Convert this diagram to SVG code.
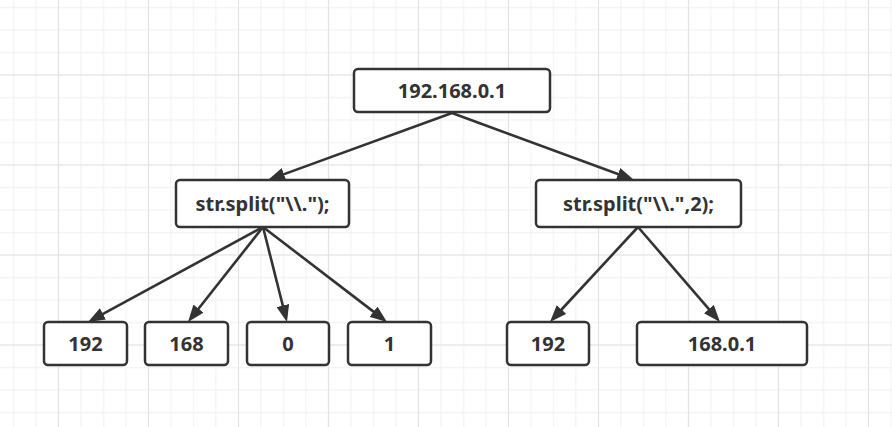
<svg xmlns="http://www.w3.org/2000/svg" width="892" height="427" viewBox="0 0 892 427">
<style>
.box{fill:#ffffff;stroke:#333333;stroke-width:2.5}
.lbl{font-family:"Noto Sans","Open Sans","DejaVu Sans",sans-serif;font-weight:bold;font-size:20px;fill:#333333;text-anchor:middle}
.edge{stroke:#333333;stroke-width:2.6;fill:none;marker-end:url(#arr)}
</style>
<defs>
<pattern id="gLight" patternUnits="userSpaceOnUse" x="0" y="0" width="22.5" height="22.5">
<path d="M13.5 0V22.5M0 7.5H22.5" stroke="#f0f0f0" stroke-width="1"/>
</pattern>
<pattern id="gDark" patternUnits="userSpaceOnUse" x="0" y="0" width="90" height="90">
<path d="M58.5 0V90M0 75H90" stroke="#e3e3e3" stroke-width="1"/>
</pattern>
<marker id="arr" markerUnits="userSpaceOnUse" markerWidth="17" markerHeight="13" refX="2" refY="6.5" orient="auto" viewBox="0 0 17 13">
<path d="M0,0 L17,6.5 L0,13 z" fill="#333333"/>
</marker>
</defs>
<rect width="892" height="427" fill="#ffffff"/>
<rect width="892" height="427" fill="url(#gLight)"/>
<rect width="892" height="427" fill="url(#gDark)"/>
<g id="connectors">
<line class="edge" x1="452" y1="113" x2="282.1" y2="174.9"/>
<line class="edge" x1="452" y1="113" x2="619.9" y2="174.8"/>
<line class="edge" x1="263" y1="227" x2="101.2" y2="314.8"/>
<line class="edge" x1="263" y1="227" x2="197.3" y2="310.2"/>
<line class="edge" x1="263" y1="227" x2="283.3" y2="307.5"/>
<line class="edge" x1="263" y1="227" x2="375.1" y2="312.9"/>
<line class="edge" x1="638" y1="227" x2="560.2" y2="311.0"/>
<line class="edge" x1="638" y1="227" x2="710.2" y2="310.6"/>
</g>
<g id="root">
<rect class="box" x="354" y="69" width="196" height="43" rx="4"/>
<text class="lbl" x="452" y="97.5">192.168.0.1</text>
</g>
<g id="split1">
<rect class="box" x="176" y="180" width="173" height="47" rx="4"/>
<text class="lbl" x="262.5" y="210.5">str.split("\\.");</text>
</g>
<g id="split2">
<rect class="box" x="536" y="180" width="205" height="47" rx="4"/>
<text class="lbl" x="638.5" y="210.5">str.split("\\.",2);</text>
</g>
<g id="n192a">
<rect class="box" x="44" y="322" width="83" height="43" rx="4"/>
<text class="lbl" x="85.5" y="350.5">192</text>
</g>
<g id="n168">
<rect class="box" x="145" y="322" width="83" height="43" rx="4"/>
<text class="lbl" x="186.5" y="350.5">168</text>
</g>
<g id="n0">
<rect class="box" x="247" y="322" width="82" height="43" rx="4"/>
<text class="lbl" x="288" y="350.5">0</text>
</g>
<g id="n1">
<rect class="box" x="348" y="322" width="83" height="43" rx="4"/>
<text class="lbl" x="389.5" y="350.5">1</text>
</g>
<g id="n192b">
<rect class="box" x="507" y="322" width="82" height="43" rx="4"/>
<text class="lbl" x="548" y="350.5">192</text>
</g>
<g id="n168rest">
<rect class="box" x="637" y="322" width="170" height="43" rx="4"/>
<text class="lbl" x="722" y="350.5">168.0.1</text>
</g>
</svg>
